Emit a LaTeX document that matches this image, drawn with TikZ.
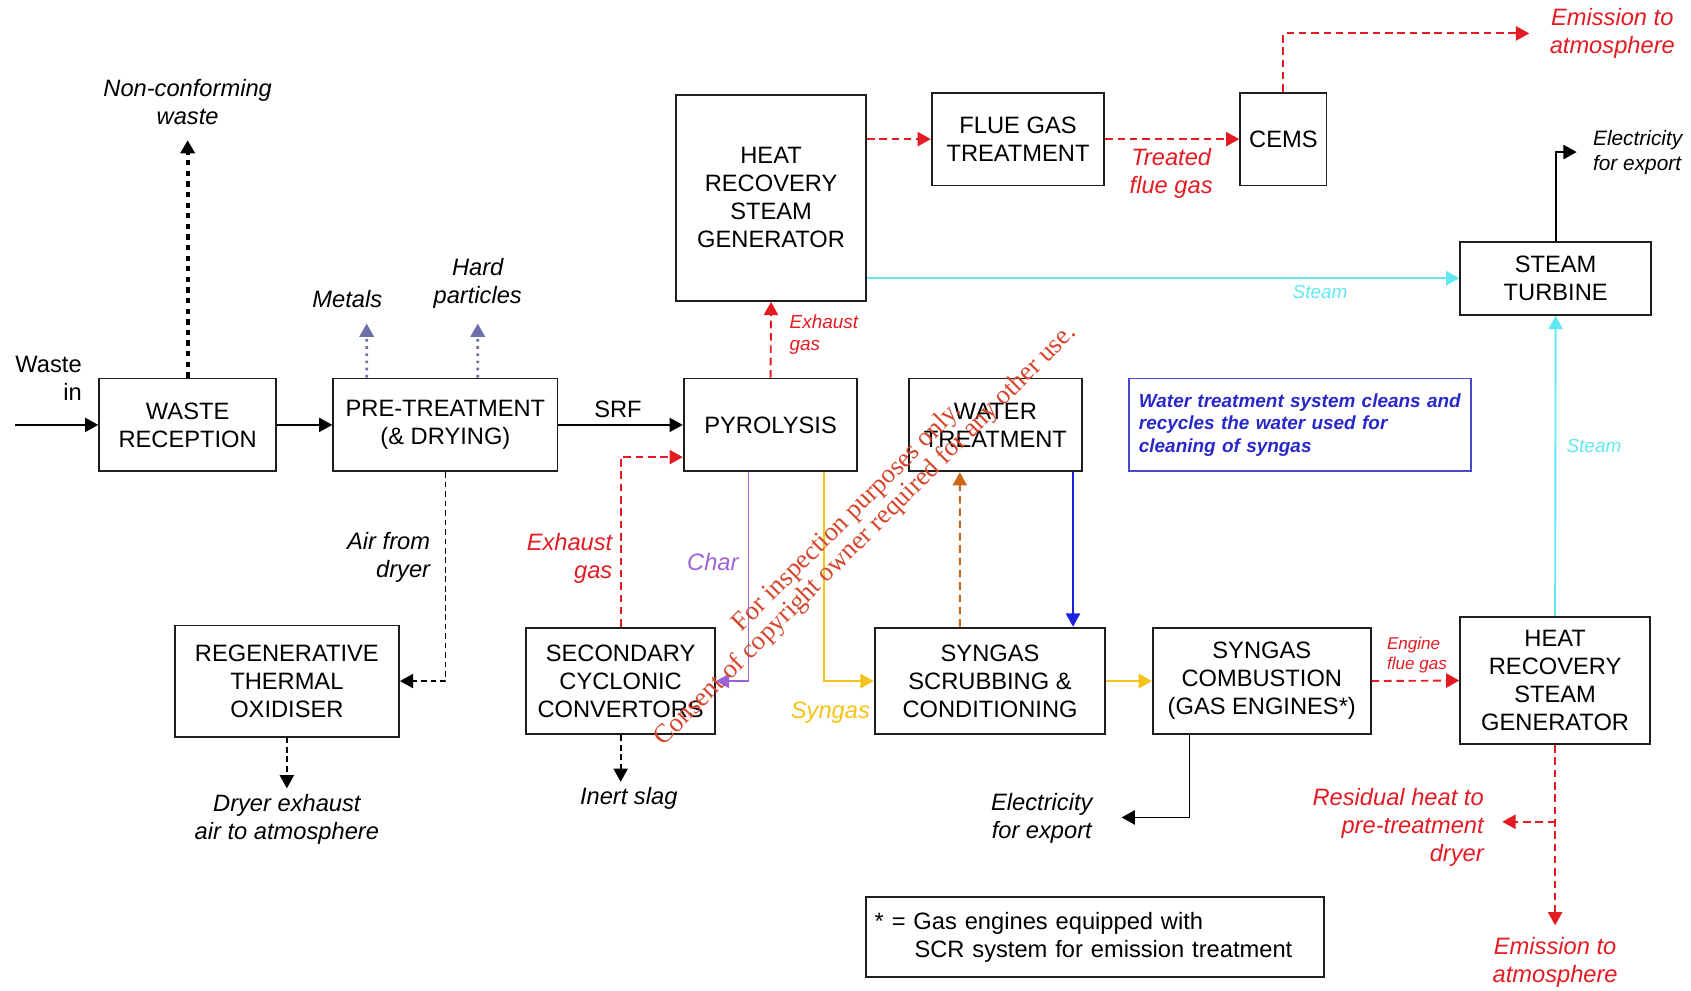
\documentclass[tikz,border=0pt]{standalone}
\usepackage{fontspec}
\setmainfont{Liberation Sans}
\newfontfamily\stampfont{Liberation Serif}
\usetikzlibrary{arrows.meta, calc}
\definecolor{boxLine}{HTML}{1E1E1E}
\definecolor{flowRed}{HTML}{E31B23}
\definecolor{steamCyan}{HTML}{62E8F2}
\definecolor{syngasYellow}{HTML}{F3C317}
\definecolor{charPurple}{HTML}{9C63D8}
\definecolor{waterBlue}{HTML}{1F1FE0}
\definecolor{noteBlue}{HTML}{2828C8}
\definecolor{sludgeOrange}{HTML}{C8661A}
\definecolor{sortSlate}{HTML}{6C70A8}
\definecolor{stampRed}{HTML}{D5452B}
\newcommand{\mainsize}{\fontsize{12.5}{14.8}\selectfont}
\newcommand{\midsize}{\fontsize{11}{13}\selectfont}
\newcommand{\smallsize}{\fontsize{10}{11.8}\selectfont}
\newcommand{\tinysize}{\fontsize{9}{10.8}\selectfont}

\begin{document}
\begin{tikzpicture}[x=0.02cm, y=-0.02cm, font=\mainsize,
  procBox/.style={draw=boxLine, line width=1pt, align=center, inner sep=2pt},
  boxSize/.style 2 args={minimum width=#1cm, minimum height=#2cm},
  tip/.style={-{Triangle[length=7pt, width=7.5pt]}},
  solidFlow/.style={tip, line width=0.9pt},
  redFlow/.style={tip, line width=1pt, flowRed, dash pattern=on 4pt off 2.5pt},
  blackDash/.style={tip, line width=0.9pt, dash pattern=on 3pt off 2pt},
  dotFlow/.style={tip, line width=1.4pt, sortSlate, dash pattern=on 1.4pt off 2.4pt},
  lbl/.style={align=center, font=\mainsize\itshape},
  redLbl/.style={lbl, text=flowRed}]
  \useasboundingbox (0,0) rectangle (1568,918);

  \node[procBox, boxSize={3.28}{1.72}] (wrec) at (174,394) {WASTE\\RECEPTION};
  \node[procBox, boxSize={4.16}{1.72}] (pretreat) at (413,394) {PRE-TREATMENT\\(\& DRYING)};
  \node[procBox, boxSize={3.22}{1.72}] (pyro) at (714.5,394) {PYROLYSIS};
  \node[procBox, boxSize={3.2}{1.72}] (wtr) at (923,394) {WATER\\TREATMENT};
  \node[draw=noteBlue!85!white, line width=1pt, boxSize={6.34}{1.72}, text width=5.98cm,
        inner xsep=0.18cm, align=left, text=noteBlue, font=\smallsize\bfseries\itshape]
        (note) at (1205.5,394) {Water treatment system cleans and\\recycles the water used for\\cleaning of syngas};
  \node[procBox, boxSize={3.52}{3.82}] (hrsgA) at (715,183.5) {HEAT\\RECOVERY\\STEAM\\GENERATOR};
  \node[procBox, boxSize={3.2}{1.72}] (flue) at (944,129) {FLUE GAS\\TREATMENT};
  \node[procBox, boxSize={1.6}{1.72}] (cems) at (1190,129) {CEMS};
  \node[procBox, boxSize={3.54}{1.36}] (turb) at (1442.5,258) {STEAM\\TURBINE};
  \node[procBox, boxSize={4.16}{2.06}] (rto) at (266,631.5) {REGENERATIVE\\THERMAL\\OXIDISER};
  \node[procBox, boxSize={3.5}{1.98}] (scc) at (575.5,631.5) {SECONDARY\\CYCLONIC\\CONVERTORS};
  \node[procBox, boxSize={4.28}{1.98}] (scrub) at (918,631.5) {SYNGAS\\SCRUBBING \&\\CONDITIONING};
  \node[procBox, boxSize={4.04}{1.98}] (comb) at (1170,631.5) {SYNGAS\\COMBUSTION\\(GAS ENGINES*)};
  \node[procBox, boxSize={3.52}{2.36}] (hrsgB) at (1442,631) {HEAT\\RECOVERY\\STEAM\\GENERATOR};
  \node[procBox, boxSize={8.5}{1.48}, text width=8.18cm, inner xsep=0.16cm, align=left]
        (foot) at (1015.5,869) {* = Gas engines equipped with\\\hspace*{0.74cm}SCR system for emission treatment};

  \coordinate (feed) at (14,394);
  \coordinate (reject) at (174,130);
  \coordinate (metals) at (340,300);
  \coordinate (hard) at (443,300);
  \coordinate (rtoOut) at (266,731);
  \coordinate (slag) at (575.5,725);
  \coordinate (emisA) at (1418,31);
  \coordinate (elecA) at (1462,141);
  \coordinate (elecB) at (1040,758);
  \coordinate (resid) at (1393,762);
  \coordinate (emisB) at (1442,858);

  \draw[solidFlow] (feed) -- (wrec.west);
  \draw[tip, line width=2pt, dash pattern=on 2.8pt off 2.8pt] (wrec.north) -- (reject);
  \draw[solidFlow] (wrec.east) -- (pretreat.west);
  \draw[dotFlow] ([xshift=-1.46cm]pretreat.north) -- (metals);
  \draw[dotFlow] ([xshift=0.6cm]pretreat.north) -- (hard);
  \draw[solidFlow] (pretreat.east) -- (pyro.west);
  \draw[blackDash] (pretreat.south) |- (rto.east);
  \draw[blackDash] (rto.south) -- (rtoOut);
  \draw[redFlow] (scc.north) |- ([yshift=-17pt]pyro.west);
  \draw[tip, line width=1pt, charPurple] ([xshift=-0.41cm]pyro.south) |- (scc.east);
  \draw[tip, line width=1.2pt, syngasYellow] ([xshift=0.99cm]pyro.south) |- (scrub.west);
  \draw[blackDash] (scc.south) -- (slag);
  \draw[redFlow] (pyro.north) -- (hrsgA.south);
  \draw[redFlow] (hrsgA.east |- flue.west) -- (flue.west);
  \draw[redFlow] (flue.east) -- (cems.west);
  \draw[redFlow] (cems.north) |- (emisA);
  \draw[tip, line width=1pt, steamCyan] (hrsgA.east |- turb.west) -- (turb.west);
  \draw[solidFlow] (turb.north) |- (elecA);
  \draw[tip, line width=1pt, waterBlue] ([xshift=1.44cm]wtr.south) -- ([xshift=1.54cm]scrub.north);
  \draw[tip, line width=1pt, sludgeOrange, dash pattern=on 4pt off 2.5pt]
       ([xshift=-0.56cm]scrub.north) -- ([xshift=-0.66cm]wtr.south);
  \draw[tip, line width=1.2pt, syngasYellow] (scrub.east) -- (comb.west);
  \draw[redFlow] (comb.east) -- (hrsgB.west);
  \draw[solidFlow] ([xshift=-1.34cm]comb.south) |- (elecB);
  \draw[tip, line width=1pt, steamCyan] (hrsgB.north) -- (turb.south);
  \draw[redFlow] (hrsgB.south) -- (emisB);
  \draw[redFlow] (hrsgB.south |- resid) -- (resid);

  \node[align=right, anchor=east] (wasteIn) at (82,350.5) {Waste\\in};
  \node[lbl] (rejectLbl) at (174,95) {Non-conforming\\waste};
  \node[lbl] (metalsLbl) at (322,277) {Metals};
  \node[lbl] (hardLbl) at (443,263) {Hard\\particles};
  \node (srfLbl) at (573,380) {SRF};
  \node[lbl, align=right, anchor=east] (airLbl) at (405,517) {Air from\\dryer};
  \node[lbl] (rtoOutLbl) at (266,760) {Dryer exhaust\\air to atmosphere};
  \node[redLbl, align=right, anchor=east] (exhLbl) at (574,518) {Exhaust\\gas};
  \node[lbl, text=charPurple] (charLbl) at (661,521) {Char};
  \node[lbl, text=syngasYellow] (syngasLbl) at (770,661) {Syngas};
  \node[lbl] (slagLbl) at (583,740) {Inert slag};
  \node[redLbl, align=left, anchor=west, font=\smallsize\itshape] (exhTopLbl) at (726,310.5) {Exhaust\\gas};
  \node[redLbl] (treatedLbl) at (1086,161) {Treated\\flue gas};
  \node[redLbl] (emisALbl) at (1495,31) {Emission to\\atmosphere};
  \node[lbl, align=left, anchor=west, font=\midsize\itshape] (elecALbl) at (1471,141.5) {Electricity\\for export};
  \node[lbl, text=steamCyan, font=\smallsize\itshape] (steamALbl) at (1224,271) {Steam};
  \node[lbl, text=steamCyan, font=\smallsize\itshape] (steamBLbl) at (1478,414) {Steam};
  \node[redLbl, align=left, anchor=west, font=\tinysize\itshape] (engLbl) at (1280,607.5) {Engine\\flue gas};
  \node[lbl] (elecBLbl) at (966,759) {Electricity\\for export};
  \node[redLbl, align=right, anchor=east] (residLbl) at (1382,767) {Residual heat to\\pre-treatment\\dryer};
  \node[redLbl] (emisBLbl) at (1442,892) {Emission to\\atmosphere};

  \node[rotate=45, align=center, text=stampRed, font=\stampfont\fontsize{14}{13.5}\selectfont]
       (stamp) at (794.5,488.5) {For inspection purposes only.\\Consent of copyright owner required for any other use.};
\end{tikzpicture}
\end{document}
